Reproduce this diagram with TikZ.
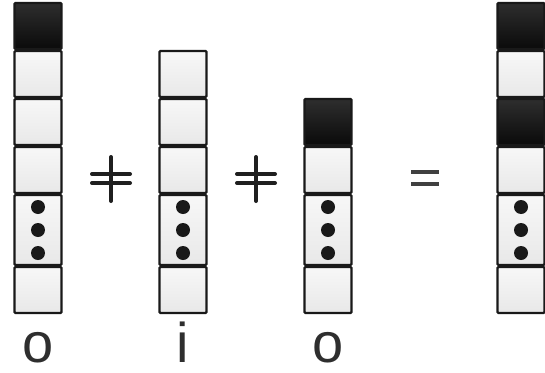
\documentclass[tikz,border=0pt]{standalone}
\usepackage{fontspec}
\setmainfont{Liberation Sans}
\usepackage{xcolor}
\usepackage{tikz}

\tikzset{
  cell/.style={rectangle, draw=black!90, line width=2.4pt, rounded corners=1pt,
    minimum width=47pt, minimum height=46pt, inner sep=0pt,
    top color=black!3, bottom color=black!9},
  blackcell/.style={cell, top color=black!82, bottom color=black!96},
  dotcell/.style={cell, minimum height=70pt},
  bead/.style={circle, fill=black!90, inner sep=0pt, minimum size=14pt},
  signline/.style={line width=4pt, line cap=round, draw=black!88},
  letter/.style={font=\fontsize{56}{56}\selectfont, text=black!82, inner sep=1pt, anchor=base}
}

\begin{document}
\begin{tikzpicture}[x=1pt, y=-1pt]
  \useasboundingbox (0,0) rectangle (545,372);

  % first o
  \node (o1) at (38,26) [blackcell] {};
  \foreach \i/\y in {2/74, 3/122, 4/170} {
    \node (o\i) at (38,\y) [cell] {};
  }
  \node (o5) at (38,230) [dotcell] {};
  \node (o6) at (38,290) [cell] {};

  % i
  \foreach \i/\y in {2/74, 3/122, 4/170} {
    \node (i\i) at (183,\y) [cell] {};
  }
  \node (i5) at (183,230) [dotcell] {};
  \node (i6) at (183,290) [cell] {};

  % second o
  \node (p3) at (328,122) [blackcell] {};
  \node (p4) at (328,170) [cell] {};
  \node (p5) at (328,230) [dotcell] {};
  \node (p6) at (328,290) [cell] {};

  % result
  \node (r1) at (521,26) [blackcell] {};
  \node (r2) at (521,74) [cell] {};
  \node (r3) at (521,122) [blackcell] {};
  \node (r4) at (521,170) [cell] {};
  \node (r5) at (521,230) [dotcell] {};
  \node (r6) at (521,290) [cell] {};

  % dots
  \foreach \c/\x in {o/38, i/183, p/328, r/521} {
    \foreach \k/\d in {1/-23, 2/0, 3/23} {
      \node (\c d\k) at (\x,{230+\d}) [bead] {};
    }
  }

  % plus, plus, equals
  \foreach \x in {111, 256} {
    \draw[signline] (\x,157) -- (\x,201);
    \draw[signline] (\x-19,174) -- (\x+19,174);
    \draw[signline] (\x-19,183) -- (\x+19,183);
  }
  \draw[signline, line cap=butt, draw=black!75] (411,172) -- (439,172);
  \draw[signline, line cap=butt, draw=black!75] (411,184) -- (439,184);

  % letters
  \node (lo) at (38,362) [letter] {o};
  \node (li) at (183,362) [letter] {i};
  \node (lp) at (328,362) [letter] {o};
\end{tikzpicture}
\end{document}
